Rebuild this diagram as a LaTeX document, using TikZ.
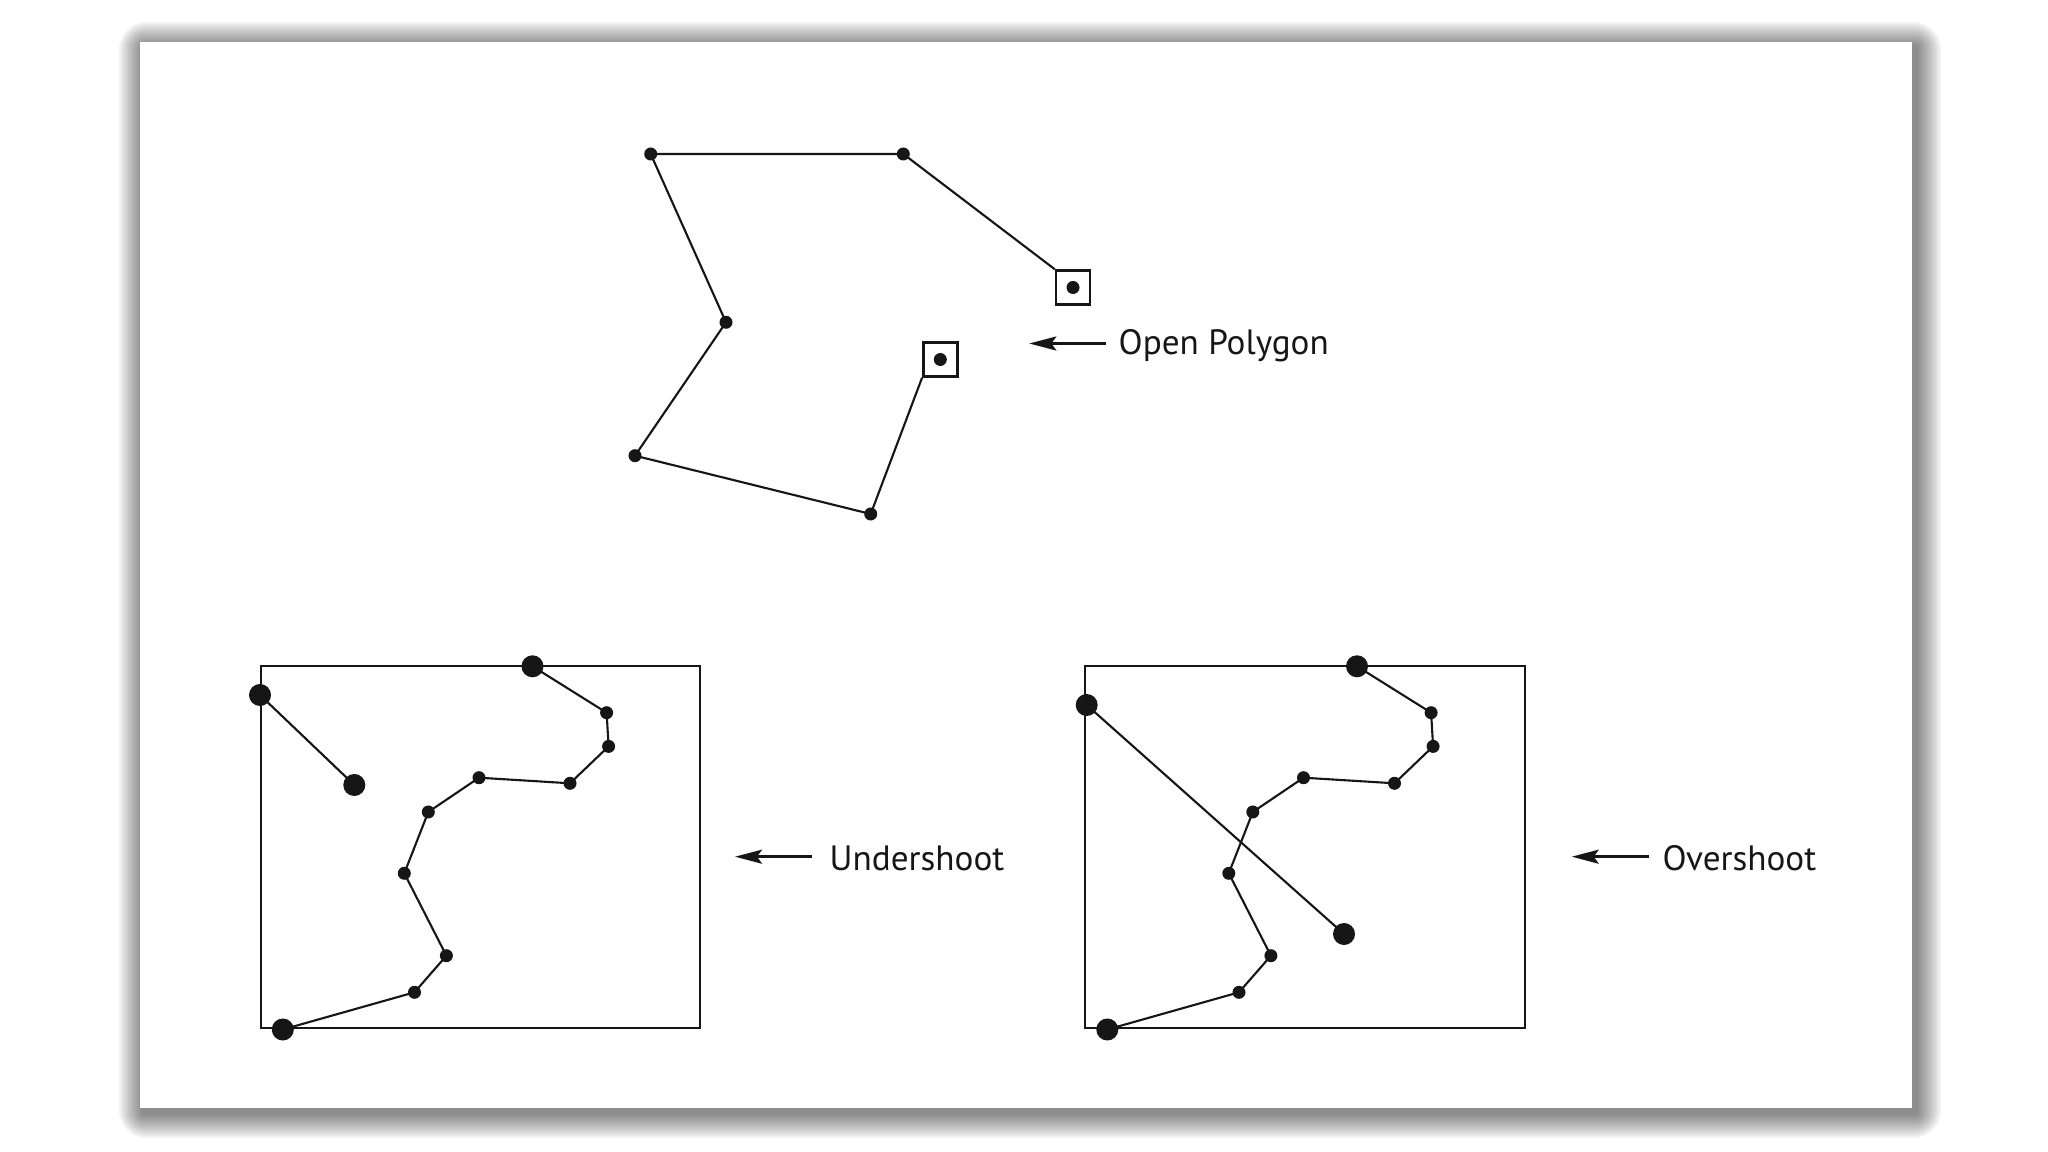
\documentclass[tikz,border=0pt]{standalone}
\usepackage{fontspec}
\setmainfont{PT Sans}
\usetikzlibrary{arrows.meta}
\definecolor{ink}{HTML}{161616}
\begin{document}
\begin{tikzpicture}[x=0.01cm,y=-0.01cm,
  pt/.style={circle,fill=ink,inner sep=0pt,minimum size=0.13cm},
  big/.style={circle,fill=ink,inner sep=0pt,minimum size=0.22cm},
  sq/.style={draw=ink,line width=0.7pt,minimum size=0.34cm,inner sep=0pt},
  ln/.style={draw=ink,line width=0.6pt},
  frame/.style={draw=ink,line width=0.62pt,inner sep=0pt,minimum width=4.392cm,minimum height=3.622cm},
  lab/.style={anchor=base west,inner sep=0pt,text=ink,font=\fontsize{10pt}{12pt}\selectfont},
  arr/.style={draw=ink,line width=0.7pt,-{Stealth[length=0.27cm,width=0.14cm,inset=0.05cm]}}]
\useasboundingbox (0,0) rectangle (2048,1152);
\fill[white] (0,0) rectangle (2048,1152);
% drop shadow of the card
\foreach \k in {1,...,14}{
  \pgfmathsetmacro\rr{0.2*\k}
  \fill[black,opacity=0.04,rounded corners=\rr mm] (144-1.8*\k,47-1.8*\k) rectangle (1916+1.8*\k,1113+1.8*\k);
}
\fill[white] (140,42) rectangle (1912,1108);

% ---- open polygon ----
\node[pt] (A) at (650.7,154) {};
\node[pt] (B) at (903.3,154) {};
\node[sq] (Cs) at (1073,287.5) {};
\node[pt] (C) at (1073,287.5) {};
\node[pt] (D) at (726,322.3) {};
\node[pt] (E) at (635,455.7) {};
\node[pt] (F) at (870.7,514) {};
\node[sq] (Gs) at (940.3,359.5) {};
\node[pt] (G) at (940.3,359.5) {};
\draw[ln] (Cs.north west) -- (B.center) -- (A.center) -- (D.center) -- (E.center) -- (F.center) -- (Gs.south west);

\node[lab] (tOP) at (1118,355) {Open Polygon};
\coordinate (aOPs) at (1106,343.5);
\coordinate (aOPe) at (1029.3,343.5);
\draw[arr] (aOPs) -- (aOPe);

% ---- undershoot ----
\node[frame] (boxU) at (480.4,847.1) {};
\node[big] (ua) at (260,695) {};
\node[big] (ub) at (354.3,785) {};
\draw[ln] (ua.center) -- (ub.center);
\node[big] (u0) at (532.5,666.3) {};
\node[pt] (u1) at (606.6,712.7) {};
\node[pt] (u2) at (608.6,746.4) {};
\node[pt] (u3) at (570,783.3) {};
\node[pt] (u4) at (479,777.7) {};
\node[pt] (u5) at (428.3,812) {};
\node[pt] (u6) at (404.3,873.3) {};
\node[pt] (u7) at (446.4,955.7) {};
\node[pt] (u8) at (414.5,992.3) {};
\node[big] (u9) at (282.8,1029.5) {};
\draw[ln] (u0.center) -- (u1.center) -- (u2.center) -- (u3.center) -- (u4.center) -- (u5.center) -- (u6.center) -- (u7.center) -- (u8.center) -- (u9.center);

\node[lab] (tU) at (829,870.7) {Undershoot};
\coordinate (aUs) at (811.7,856.7);
\coordinate (aUe) at (735,856.7);
\draw[arr] (aUs) -- (aUe);

% ---- overshoot ----
\node[frame] (boxO) at (1304.9,847.1) {};
\node[big] (oa) at (1086.7,705) {};
\node[big] (ob) at (1344,934) {};
\draw[ln] (oa.center) -- (ob.center);
\node[big] (o0) at (1357,666.3) {};
\node[pt] (o1) at (1431.1,712.7) {};
\node[pt] (o2) at (1433.1,746.4) {};
\node[pt] (o3) at (1394.5,783.3) {};
\node[pt] (o4) at (1303.5,777.7) {};
\node[pt] (o5) at (1252.8,812) {};
\node[pt] (o6) at (1228.8,873.3) {};
\node[pt] (o7) at (1270.9,955.7) {};
\node[pt] (o8) at (1239,992.3) {};
\node[big] (o9) at (1107.3,1029.5) {};
\draw[ln] (o0.center) -- (o1.center) -- (o2.center) -- (o3.center) -- (o4.center) -- (o5.center) -- (o6.center) -- (o7.center) -- (o8.center) -- (o9.center);

\node[lab] (tO) at (1662,870.7) {Overshoot};
\coordinate (aOs) at (1649.3,856.7);
\coordinate (aOe) at (1571.7,856.7);
\draw[arr] (aOs) -- (aOe);
\end{tikzpicture}
\end{document}
